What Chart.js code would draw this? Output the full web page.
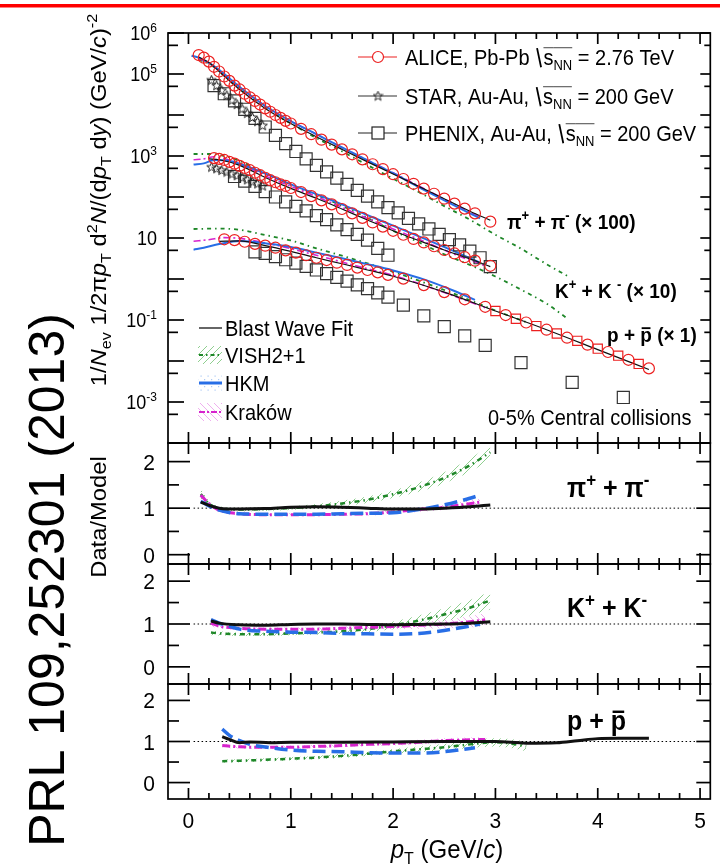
<!DOCTYPE html>
<html>
<head>
<meta charset="utf-8">
<script src="https://cdn.jsdelivr.net/npm/chart.js@4.4.0/dist/chart.umd.min.js"></script>
<style>html,body{margin:0;padding:0;background:#fff}canvas{display:block}</style>
</head>
<body>
<canvas id="grafico" width="720" height="868"></canvas>
<script>
// ---- spectra (main panel), pT in GeV/c ----
const ptPiAlice = [0.1,0.15,0.2,0.25,0.3,0.35,0.4,0.45,0.5,0.55,0.6,0.65,0.7,0.75,0.8,0.85,0.9,0.95,1.0,1.1,1.2,1.3,1.4,1.5,1.6,1.7,1.8,1.9,2.0,2.1,2.2,2.3,2.4,2.5,2.6,2.7,2.8,2.95];
const piAlice = [2.9e5,2.5e5,2.0e5,1.5e5,1.15e5,8.7e4,6.8e4,5.2e4,4.2e4,3.3e4,2.7e4,2.2e4,1.8e4,1.45e4,1.2e4,1.0e4,8.5e3,7.2e3,6.2e3,4.6e3,3.4e3,2.5e3,1.9e3,1.45e3,1.1e3,830,630,480,360,275,210,160,120,91,69,52,40,25];
const ptKAlice = [0.25,0.3,0.35,0.4,0.45,0.5,0.55,0.6,0.65,0.7,0.75,0.8,0.85,0.9,0.95,1.0,1.1,1.2,1.3,1.4,1.5,1.6,1.7,1.8,1.9,2.0,2.1,2.2,2.3,2.4,2.5,2.6,2.7,2.8,2.95];
const kAlice = [890,850,800,720,650,575,510,450,390,340,295,257,229,204,186,166,132,105,83,66,51,40,31,24,19,15,12,9.5,7.8,6.3,5.1,4.2,3.4,2.8,2.1];
const ptPAlice = [0.35,0.45,0.55,0.65,0.75,0.85,0.95,1.05,1.15,1.25,1.35,1.45,1.55,1.65,1.75,1.85,1.95,2.1,2.3,2.5,2.7,2.9,3.1,3.3,3.5,3.7,3.9,4.1,4.3,4.5];
const pAlice = [9.3,8.9,8.1,7.2,6.5,5.8,5.0,4.4,3.8,3.3,2.9,2.5,2.2,1.9,1.66,1.45,1.26,1.02,0.71,0.48,0.32,0.21,0.132,0.087,0.058,0.037,0.025,0.0166,0.0107,0.0066];
const ptPAliceSq = [3.0,3.2,3.4,3.6,3.8,4.0,4.2,4.4];
const pAliceSq = [0.166,0.107,0.071,0.047,0.031,0.020,0.0135,0.0085];

const ptStar = [0.225,0.275,0.325,0.375,0.425,0.475,0.525,0.575,0.625,0.675,0.725];
const piStar = [7.1e4,5.2e4,4.0e4,3.0e4,2.3e4,1.8e4,1.41e4,1.1e4,8.7e3,6.9e3,5.5e3];
const kStar = [537,490,447,407,363,331,295,263,234,209,186];

const ptPiPhenix = [0.25,0.35,0.45,0.55,0.65,0.75,0.85,0.95,1.05,1.15,1.25,1.35,1.45,1.55,1.65,1.75,1.85,1.95,2.05,2.15,2.25,2.35,2.45,2.55,2.65,2.75,2.85,2.95];
const piPhenix = [5.2e4,3.3e4,2.2e4,1.38e4,8.3e3,5.1e3,3.2e3,2.0e3,1290,850,590,410,290,204,145,105,76,55,41,30,22,16.6,12.3,9.1,6.8,4.8,3.3,2.0];
const ptKPhenix = [0.45,0.55,0.65,0.75,0.85,0.95,1.05,1.15,1.25,1.35,1.45,1.55,1.65,1.75,1.85,1.95];
const kPhenix = [316,245,182,135,100,76,59,46,35,28,21,16,12.3,8.9,5.6,3.8];
const ptPPhenix = [0.65,0.75,0.85,0.95,1.05,1.15,1.25,1.35,1.45,1.55,1.65,1.75,1.85,1.95,2.1,2.3,2.5,2.7,2.9,3.25,3.75,4.25];
const pPhenix = [4.6,4.2,3.5,2.95,2.45,2.04,1.66,1.35,1.10,0.89,0.72,0.58,0.46,0.36,0.23,0.126,0.069,0.041,0.024,0.0091,0.0030,0.00129];

// model curves on the spectra
const ptPiBW = [0.1,0.2,0.3,0.5,0.75,1.0,1.25,1.5,1.75,2.0,2.25,2.5,2.75,2.95];
const piBW = [2.6e5,1.9e5,1.15e5,4.2e4,1.45e4,6.2e3,2.95e3,1.45e3,720,365,182,91,45,27];
const ptPiVish = [0.1,0.2,0.3,0.5,0.75,1.0,1.25,1.5,1.75,2.0,2.25,2.5,2.75,3.0,3.25,3.5,3.7];
const piVish = [2.2e5,1.8e5,1.15e5,4.3e4,1.5e4,6.2e3,2.75e3,1.3e3,600,280,132,60,28,12,5.5,2.3,1.2];
const ptPiHkm = [0.03,0.1,0.2,0.3,0.5,0.75,1.0,1.25,1.5,1.75,2.0,2.25,2.5,2.75,2.85];
const piHkm = [2.8e5,2.5e5,1.86e5,1.26e5,4.8e4,1.66e4,7.1e3,3.4e3,1.62e3,780,380,174,83,40,30];
const ptPiKrak = [0.1,0.2,0.3,0.5,0.75,1.0,1.25,1.5,1.75,2.0,2.25,2.5,2.75,2.85];
const piKrak = [2.35e5,1.86e5,1.2e5,4.8e4,1.66e4,7.1e3,3.4e3,1.62e3,790,390,186,89,43,32];

const ptKBW = [0.2,0.3,0.5,0.75,1.0,1.25,1.5,1.75,2.0,2.25,2.5,2.75,2.95];
const kBW = [850,810,590,300,162,93,51,27.5,15,8.7,5.1,3.1,2.0];
const ptKVish = [0.05,0.2,0.3,0.5,0.75,1.0,1.25,1.5,1.75,2.0,2.25,2.5,2.75,3.0,3.25,3.5,3.7];
const kVish = [1120,1120,1070,760,380,200,112,61,31,15,7.9,4.0,2.2,1.15,0.55,0.25,0.11];
const ptKHkm = [0.05,0.15,0.25,0.4,0.6,0.8,1.0,1.25,1.5,1.75,2.0,2.3,2.6,2.85];
const kHkm = [617,661,794,759,525,331,204,117,66,36,20,9.8,4.7,2.5];
const ptKKrak = [0.05,0.15,0.25,0.4,0.6,0.8,1.0,1.25,1.5,1.75,2.0,2.3,2.6,2.9];
const kKrak = [813,851,955,794,501,288,182,102,56,30,16.6,8.3,4.0,2.1];

const ptPBW = [0.3,0.5,0.75,1.0,1.25,1.5,1.75,2.0,2.5,3.0,3.5,4.0,4.5];
const pBW = [8.3,8.5,6.5,4.7,3.3,2.35,1.66,1.17,0.48,0.166,0.058,0.019,0.0062];
const ptPVish = [0.05,0.3,0.5,0.75,1.0,1.25,1.5,1.75,2.0,2.5,3.0,3.3];
const pVish = [16.6,17.0,15.8,11.8,8.7,5.6,3.7,2.4,1.5,0.54,0.17,0.089];
const ptPHkm = [0.05,0.15,0.3,0.5,0.8,1.0,1.25,1.5,1.75,2.0,2.3,2.6,2.8];
const pHkm = [5.2,5.8,7.1,8.5,7.2,6.0,4.4,3.2,2.3,1.62,0.98,0.51,0.31];
const ptPKrak = [0.05,0.2,0.35,0.5,0.75,1.0,1.25,1.5,1.75,2.0,2.5,2.9];
const pKrak = [8.3,9.1,10.2,9.8,7.6,5.5,3.8,2.6,1.78,1.23,0.47,0.20];

// ---- data/model ratios ----
const refX = [0.05, 4.95];
const refY = [1, 1];

const ptPiBWR = [0.12,0.2,0.3,0.5,0.75,1.0,1.25,1.5,1.75,2.0,2.25,2.5,2.75,2.95];
const piBWR = [1.13,1.06,1.0,0.98,0.99,1.02,1.03,1.02,1.0,0.98,0.98,1.0,1.03,1.07];
const ptPiVishR = [0.12,0.2,0.3,0.5,0.75,1.0,1.25,1.5,1.75,2.0,2.25,2.5,2.75,2.95];
const piVishR = [1.3,1.1,1.0,0.97,0.98,1.0,1.04,1.1,1.18,1.3,1.45,1.65,1.92,2.2];
const piVishHi = [1.42,1.16,1.04,1.01,1.02,1.04,1.09,1.16,1.25,1.38,1.55,1.77,2.06,2.36];
const piVishLo = [1.18,1.04,0.96,0.93,0.94,0.96,0.99,1.04,1.11,1.22,1.35,1.53,1.78,2.04];
const ptPiHkmR = [0.12,0.2,0.3,0.5,0.75,1.0,1.25,1.5,1.75,2.0,2.25,2.5,2.7,2.85];
const piHkmR = [1.15,1.05,0.96,0.88,0.87,0.87,0.87,0.88,0.89,0.9,0.97,1.07,1.18,1.28];
const ptPiKrakR = [0.12,0.2,0.3,0.5,0.75,1.0,1.25,1.5,1.75,2.0,2.25,2.5,2.7,2.85];
const piKrakR = [1.28,1.1,0.96,0.88,0.86,0.86,0.86,0.87,0.88,0.92,0.97,1.02,1.08,1.13];
const piKrakHi = [1.42,1.17,1.0,0.91,0.89,0.89,0.89,0.9,0.92,0.96,1.02,1.08,1.15,1.21];
const piKrakLo = [1.14,1.03,0.92,0.85,0.83,0.83,0.83,0.84,0.84,0.88,0.92,0.96,1.01,1.05];

const ptKBWR = [0.22,0.3,0.5,0.75,1.0,1.25,1.5,1.75,2.0,2.25,2.5,2.75,2.95];
const kBWR = [1.07,1.02,0.98,0.97,0.99,1.0,1.0,0.99,0.98,0.99,1.0,1.02,1.05];
const ptKVishR = [0.22,0.3,0.5,0.75,1.0,1.25,1.5,1.75,2.0,2.25,2.5,2.75,2.95];
const kVishR = [0.8,0.78,0.76,0.76,0.78,0.8,0.83,0.88,0.97,1.08,1.22,1.38,1.55];
const kVishHi = [0.86,0.83,0.8,0.8,0.82,0.85,0.89,0.95,1.06,1.2,1.37,1.56,1.76];
const kVishLo = [0.74,0.73,0.72,0.72,0.74,0.75,0.77,0.81,0.88,0.96,1.07,1.2,1.34];
const ptKHkmR = [0.22,0.3,0.4,0.5,0.75,1.0,1.25,1.5,1.75,2.0,2.25,2.5,2.7,2.85];
const kHkmR = [1.1,1.02,0.95,0.88,0.83,0.81,0.8,0.78,0.77,0.76,0.78,0.85,0.93,1.0];
const ptKKrakR = [0.22,0.3,0.5,0.75,1.0,1.25,1.5,1.75,2.0,2.25,2.5,2.75,2.9];
const kKrakR = [1.02,0.95,0.9,0.88,0.88,0.88,0.9,0.92,0.94,0.97,1.0,1.05,1.1];
const kKrakHi = [1.1,1.0,0.94,0.92,0.92,0.92,0.94,0.97,1.0,1.05,1.1,1.18,1.25];
const kKrakLo = [0.94,0.9,0.86,0.84,0.84,0.84,0.86,0.87,0.88,0.89,0.9,0.92,0.95];

const ptPBWR = [0.33,0.4,0.5,0.6,0.8,1.0,1.5,2.0,2.5,3.0,3.3,3.6,3.8,4.0,4.2,4.5];
const pBWR = [1.12,1.05,0.97,0.99,0.97,0.98,0.98,0.99,1.0,1.0,0.96,0.97,1.02,1.07,1.08,1.08];
const ptPVishR = [0.33,0.6,0.8,1.0,1.25,1.5,1.75,2.0,2.25,2.5,2.75,3.0,3.15,3.3];
const pVishR = [0.52,0.54,0.56,0.58,0.61,0.65,0.7,0.76,0.81,0.86,0.93,0.98,0.95,0.88];
const pVishHi = [0.56,0.58,0.6,0.62,0.65,0.7,0.75,0.82,0.88,0.94,1.02,1.08,1.06,1.0];
const pVishLo = [0.48,0.5,0.52,0.54,0.57,0.6,0.65,0.7,0.74,0.78,0.84,0.88,0.84,0.76];
const ptPHkmR = [0.33,0.4,0.5,0.6,0.8,1.0,1.25,1.5,1.75,2.0,2.3,2.6,2.8];
const pHkmR = [1.3,1.15,1.02,0.93,0.85,0.79,0.76,0.75,0.73,0.72,0.72,0.78,0.85];
const ptPKrakR = [0.33,0.5,0.75,1.0,1.25,1.5,1.75,2.0,2.25,2.5,2.75,2.9];
const pKrakR = [0.9,0.87,0.86,0.86,0.88,0.9,0.93,0.95,0.98,1.02,1.04,1.05];
const pKrakHi = [0.95,0.91,0.9,0.9,0.92,0.94,0.97,1.0,1.04,1.08,1.1,1.11];
const pKrakLo = [0.85,0.83,0.82,0.82,0.84,0.86,0.89,0.9,0.92,0.96,0.98,0.99];

// ---- colours / helpers ----
const RED = 'rgb(236,32,32)', GREEN = 'rgb(30,135,40)', BLUE = 'rgb(40,110,230)', MAG = 'rgb(215,35,205)';
const FAM = '"Liberation Sans", Arial, sans-serif';
const SY = 1.08; // the figure is a little stretched vertically

const ctx = document.getElementById('grafico').getContext('2d');

function pattern(draw) {
  const c = document.createElement('canvas');
  c.width = c.height = 7;
  draw(c.getContext('2d'));
  return ctx.createPattern(c, 'repeat');
}
const patGreen = pattern(g => { g.strokeStyle = 'rgba(70,175,70,0.6)'; g.lineWidth = 1; g.beginPath(); g.moveTo(0, 7); g.lineTo(7, 0); g.stroke(); });
const patMag = pattern(g => { g.strokeStyle = 'rgba(225,110,225,0.55)'; g.lineWidth = 1; g.beginPath(); g.moveTo(0, 0); g.lineTo(7, 7); g.stroke(); });
const patBlue = pattern(g => { g.fillStyle = 'rgba(90,150,235,0.5)'; g.fillRect(1, 1, 1.2, 1.2); g.fillRect(4.5, 4.5, 1.2, 1.2); });

const STAR = document.createElement('canvas');
STAR.width = STAR.height = 11;
(() => {
  const g = STAR.getContext('2d');
  g.beginPath();
  for (let i = 0; i < 10; i++) {
    const r = i % 2 ? 2.1 : 5, a = -Math.PI / 2 + i * Math.PI / 5;
    g.lineTo(5.5 + r * Math.cos(a), 5.7 + r * Math.sin(a));
  }
  g.closePath(); g.strokeStyle = '#222'; g.lineWidth = 1; g.stroke();
})();

const pts = (xs, ys) => xs.map((x, i) => ({ x: x, y: ys[i] }));
const ds = [];
function marks(xs, ys, axis, style, r, color) {
  ds.push({ data: pts(xs, ys), yAxisID: axis, showLine: false, pointStyle: style, pointRadius: r,
    pointBorderColor: color, pointBackgroundColor: 'rgba(0,0,0,0)', pointBorderWidth: 1.2 });
}
function curve(xs, ys, axis, color, w, dash) {
  ds.push({ data: pts(xs, ys), yAxisID: axis, showLine: true, borderColor: color, borderWidth: w,
    borderDash: dash || [], pointRadius: 0, fill: false, cubicInterpolationMode: 'monotone' });
}
function band(xs, hi, lo, axis, pat) {
  ds.push({ data: pts(xs, hi), yAxisID: axis, showLine: true, borderWidth: 0, pointRadius: 0,
    fill: '+1', backgroundColor: pat, cubicInterpolationMode: 'monotone' });
  ds.push({ data: pts(xs, lo), yAxisID: axis, showLine: true, borderWidth: 0, pointRadius: 0,
    fill: false, cubicInterpolationMode: 'monotone' });
}

// data points (on top)
marks(ptPiAlice, piAlice, 'y', 'circle', 5.5, RED);
marks(ptKAlice, kAlice, 'y', 'circle', 5.5, RED);
marks(ptPAlice, pAlice, 'y', 'circle', 5.5, RED);
marks(ptPAliceSq, pAliceSq, 'y', 'rect', 6.5, RED);
marks(ptStar, piStar, 'y', STAR, 5, '#222');
marks(ptStar, kStar, 'y', STAR, 5, '#222');
marks(ptPiPhenix, piPhenix, 'y', 'rect', 8.5, '#333');
marks(ptKPhenix, kPhenix, 'y', 'rect', 8.5, '#333');
marks(ptPPhenix, pPhenix, 'y', 'rect', 8.5, '#333');

// models on the spectra
curve(ptPiBW, piBW, 'y', '#111', 1.2);
curve(ptKBW, kBW, 'y', '#111', 1.2);
curve(ptPBW, pBW, 'y', '#111', 1.2);
curve(ptPiHkm, piHkm, 'y', BLUE, 2);
curve(ptKHkm, kHkm, 'y', BLUE, 2);
curve(ptPHkm, pHkm, 'y', BLUE, 2);
curve(ptPiKrak, piKrak, 'y', MAG, 1.6, [7, 3, 2, 3]);
curve(ptKKrak, kKrak, 'y', MAG, 1.6, [7, 3, 2, 3]);
curve(ptPKrak, pKrak, 'y', MAG, 1.6, [7, 3, 2, 3]);
curve(ptPiVish, piVish, 'y', GREEN, 1.8, [4, 4, 1.5, 4]);
curve(ptKVish, kVish, 'y', GREEN, 1.8, [4, 4, 1.5, 4]);
curve(ptPVish, pVish, 'y', GREEN, 1.8, [4, 4, 1.5, 4]);

// ratio panels
[['r1', ptPiBWR, piBWR, ptPiHkmR, piHkmR, ptPiKrakR, piKrakR, ptPiVishR, piVishR],
 ['r2', ptKBWR, kBWR, ptKHkmR, kHkmR, ptKKrakR, kKrakR, ptKVishR, kVishR],
 ['r3', ptPBWR, pBWR, ptPHkmR, pHkmR, ptPKrakR, pKrakR, ptPVishR, pVishR]].forEach(r => {
  curve(r[1], r[2], r[0], '#111', 3);
  curve(r[3], r[4], r[0], BLUE, 3.5, [13, 6]);
  curve(r[5], r[6], r[0], MAG, 3, [8, 3, 2, 3]);
  curve(r[7], r[8], r[0], GREEN, 2.5, [5, 4, 1.5, 4]);
});
band(ptPiVishR, piVishHi, piVishLo, 'r1', patGreen);
band(ptPiKrakR, piKrakHi, piKrakLo, 'r1', patMag);
band(ptKVishR, kVishHi, kVishLo, 'r2', patGreen);
band(ptKKrakR, kKrakHi, kKrakLo, 'r2', patMag);
band(ptPVishR, pVishHi, pVishLo, 'r3', patGreen);
band(ptPKrakR, pKrakHi, pKrakLo, 'r3', patMag);
['r1', 'r2', 'r3'].forEach(id => curve(refX, refY, id, '#000', 1, [1.5, 2.5]));

// ---- text helpers ----
function rich(g, parts, size, align, bold) {
  const fnt = p => (p.i ? 'italic ' : '') + ((p.b !== undefined ? p.b : bold) ? 'bold ' : '') +
    ((p.sub || p.sup) ? Math.round(size * 0.66) : size) + 'px ' + FAM;
  const ws = parts.map(p => { if (p.rad) return size * 0.42; g.font = fnt(p); return g.measureText(p.t).width; });
  const total = ws.reduce((s, w) => s + w, 0);
  let x = align === 'right' ? -total : align === 'center' ? -total / 2 : 0;
  parts.forEach((p, k) => {
    const w = ws[k];
    if (p.rad) {
      g.lineWidth = 1.8;
      g.beginPath(); g.moveTo(x + size * 0.1, -size * 0.78); g.lineTo(x + size * 0.3, size * 0.1); g.stroke();
    } else {
      g.font = fnt(p);
      const dy = p.sup ? -size * 0.42 : p.sub ? size * 0.24 : 0;
      g.fillText(p.t, x, dy);
      if (p.bar) g.fillRect(x + w * 0.12, -size * 0.72, w * 0.76, size * 0.09);
    }
    if (p.ol) { g.lineWidth = 0.7; g.beginPath(); g.moveTo(x, -size * 0.8); g.lineTo(x + w, -size * 0.8); g.stroke(); }
    x += w;
  });
}
function txt(g, parts, x, y, o) {
  g.save();
  g.translate(x, y);
  g.scale(1, o.sy !== undefined ? o.sy : SY);
  if (o.rot) g.rotate(-Math.PI / 2);
  g.fillStyle = g.strokeStyle = o.color || '#000';
  g.textBaseline = 'alphabetic';
  rich(g, parts, o.size, o.align || 'left', o.bold);
  g.restore();
}
function seg(g, x1, y1, x2, y2) { g.beginPath(); g.moveTo(x1, y1); g.lineTo(x2, y2); g.stroke(); }

const decor = {
  id: 'decor',
  beforeDraw(chart) {
    const g = chart.ctx;
    g.save(); g.fillStyle = '#fff'; g.fillRect(0, 0, chart.width, chart.height); g.restore();
  },
  afterDraw(chart) {
    const g = chart.ctx, a = chart.chartArea, sx = chart.scales.x, sy = chart.scales.y;
    g.save();
    g.fillStyle = '#ff0000';
    g.fillRect(0, 4, 720, 3.5);

    // frames and inward ticks
    g.strokeStyle = '#000'; g.lineWidth = 1.7;
    ['y', 'r1', 'r2', 'r3'].forEach(id => {
      const s = chart.scales[id];
      g.strokeRect(a.left, s.top, a.right - a.left, s.bottom - s.top);
      for (let i = 0; i <= 25; i++) {
        const px = sx.getPixelForValue(i / 5), L = i % 5 === 0 ? 11 : 6;
        seg(g, px, s.top, px, s.top + L);
        seg(g, px, s.bottom, px, s.bottom - L);
      }
    });
    for (let n = -4; n <= 6; n++) {
      const py = sy.getPixelForValue(Math.pow(10, n));
      seg(g, a.left, py, a.left + 16, py); seg(g, a.right, py, a.right - 10, py);
      if (n < 6) {
        const q = sy.getPixelForValue(5 * Math.pow(10, n));
        seg(g, a.left, q, a.left + 10, q); seg(g, a.right, q, a.right - 6, q);
      }
    }
    ['r1', 'r2', 'r3'].forEach(id => {
      const s = chart.scales[id];
      [0, 0.5, 1, 1.5, 2].forEach(v => {
        const py = s.getPixelForValue(v), major = v % 1 === 0;
        seg(g, a.left, py, a.left + (major ? 22 : 11), py);
        seg(g, a.right, py, a.right - (major ? 14 : 7), py);
      });
      [['2', 2], ['1', 1], ['0', 0]].forEach(([t, v]) =>
        txt(g, [{ t: t }], 155, s.getPixelForValue(v) + 8, { size: 21, align: 'right' }));
    });

    // tick labels
    [[6, '6'], [5, '5'], [3, '3'], [1, ''], [-1, '-1'], [-3, '-3']].forEach(([n, e]) => {
      const parts = e ? [{ t: '10' }, { t: e, sup: true }] : [{ t: '10' }];
      txt(g, parts, 157, sy.getPixelForValue(Math.pow(10, n)) + 7, { size: 18, align: 'right' });
    });
    [0, 1, 2, 3, 4, 5].forEach(v =>
      txt(g, [{ t: String(v) }], sx.getPixelForValue(v), 828, { size: 21, align: 'center' }));

    // axis titles
    txt(g, [{ t: 'p', i: true }, { t: 'T', sub: true }, { t: ' (GeV/' }, { t: 'c', i: true }, { t: ')' }],
      447, 858, { size: 24, align: 'center' });
    txt(g, [{ t: '1/' }, { t: 'N', i: true }, { t: 'ev', sub: true }, { t: ' 1/2\u03C0' }, { t: 'p', i: true },
      { t: 'T', sub: true }, { t: ' d' }, { t: '2', sup: true }, { t: 'N', i: true }, { t: '/(d' }, { t: 'p', i: true },
      { t: 'T', sub: true }, { t: ' d' }, { t: 'y', i: true }, { t: ') (GeV/' }, { t: 'c', i: true }, { t: ')' },
      { t: '-2', sup: true }], 106, 200, { size: 22, align: 'center', rot: true });
    txt(g, [{ t: 'Data/Model' }], 106, 517, { size: 22, align: 'center', rot: true });

    // legend, top right
    const rows = [
      [57, RED, 'c', [{ t: 'ALICE, Pb-Pb ' }, { rad: true }, { t: 's', ol: true }, { t: 'NN', sub: true, ol: true }, { t: ' = 2.76 TeV' }]],
      [96, '#333', 's', [{ t: 'STAR, Au-Au, ' }, { rad: true }, { t: 's', ol: true }, { t: 'NN', sub: true, ol: true }, { t: ' = 200 GeV' }]],
      [133, '#222', 'q', [{ t: 'PHENIX, Au-Au, ' }, { rad: true }, { t: 's', ol: true }, { t: 'NN', sub: true, ol: true }, { t: ' = 200 GeV' }]]
    ];
    rows.forEach(([y, col, m, parts]) => {
      g.strokeStyle = col; g.lineWidth = 1.2; seg(g, 358, y, 397, y);
      if (m === 'c') { g.fillStyle = '#fff'; g.beginPath(); g.arc(378, y, 5.5, 0, 2 * Math.PI); g.fill(); g.stroke(); }
      else if (m === 's') g.drawImage(STAR, 372.5, y - 5.5);
      else { g.fillStyle = '#fff'; g.fillRect(372, y - 6, 12, 12); g.strokeRect(372, y - 6, 12, 12); }
      txt(g, parts, 405, y + 8, { size: 20 });
    });

    // legend, models
    const mods = [
      [328, 'Blast Wave Fit', null, '#333', 1.5, []],
      [355, 'VISH2+1', patGreen, GREEN, 2, [4, 3, 1.5, 3]],
      [383, 'HKM', patBlue, BLUE, 3, []],
      [412, 'Krak\u00F3w', patMag, MAG, 2, [6, 2, 2, 2]]
    ];
    mods.forEach(([y, label, pat, col, w, dash]) => {
      if (pat) { g.fillStyle = pat; g.fillRect(198, y - 9, 24, 18); }
      g.strokeStyle = col; g.lineWidth = w; g.setLineDash(dash);
      seg(g, 199, y, 222, y); g.setLineDash([]);
      txt(g, [{ t: label }], 225, y + 8, { size: 20 });
    });

    // annotations
    txt(g, [{ t: '\u03C0' }, { t: '+', sup: true }, { t: ' + \u03C0' }, { t: '-', sup: true }, { t: ' (\u00D7 100)' }],
      507, 229, { size: 19, bold: true });
    txt(g, [{ t: 'K' }, { t: '+', sup: true }, { t: ' + K ' }, { t: '-', sup: true }, { t: ' (\u00D7 10)' }],
      555, 298, { size: 19, bold: true });
    txt(g, [{ t: 'p' }, { t: ' + ' }, { t: 'p', bar: true }, { t: ' (\u00D7 1)' }],
      607, 342, { size: 19, bold: true });
    txt(g, [{ t: '0-5% Central collisions' }], 488, 425, { size: 20 });
    txt(g, [{ t: '\u03C0' }, { t: '+', sup: true }, { t: ' + \u03C0' }, { t: '-', sup: true }], 567, 497, { size: 25, bold: true });
    txt(g, [{ t: 'K' }, { t: '+', sup: true }, { t: ' + K' }, { t: '-', sup: true }], 567, 617, { size: 25, bold: true });
    txt(g, [{ t: 'p' }, { t: ' + ' }, { t: 'p', bar: true }], 567, 730, { size: 25, bold: true });

    // reference tag on the left
    txt(g, [{ t: 'PRL 109,252301 (2013)' }], 64, 580, { size: 50, align: 'center', rot: true, sy: 1 });
    g.restore();
  }
};

const hidden = { ticks: { display: false }, grid: { display: false }, border: { display: false } };
const miGrafico = new Chart(ctx, {
  type: 'line',
  data: { datasets: ds },
  options: {
    responsive: false,
    animation: false,
    events: [],
    layout: { padding: { left: 168, top: 33, right: 9, bottom: 69 } },
    plugins: { legend: { display: false }, tooltip: { enabled: false } },
    scales: {
      x: Object.assign({ type: 'linear', min: -0.2, max: 5.1, position: 'bottom', afterFit: s => { s.height = 0; } }, hidden),
      y: Object.assign({ type: 'logarithmic', min: 1e-4, max: 1e6, position: 'left', stack: 'p', stackWeight: 410, weight: 4, afterFit: s => { s.width = 0; } }, hidden),
      r1: Object.assign({ type: 'linear', min: -0.2, max: 2.4, position: 'left', stack: 'p', stackWeight: 121, weight: 3, afterFit: s => { s.width = 0; } }, hidden),
      r2: Object.assign({ type: 'linear', min: -0.4, max: 2.4, position: 'left', stack: 'p', stackWeight: 120, weight: 2, afterFit: s => { s.width = 0; } }, hidden),
      r3: Object.assign({ type: 'linear', min: -0.4, max: 2.4, position: 'left', stack: 'p', stackWeight: 115, weight: 1, afterFit: s => { s.width = 0; } }, hidden)
    }
  },
  plugins: [decor]
});
</script>
</body>
</html>
